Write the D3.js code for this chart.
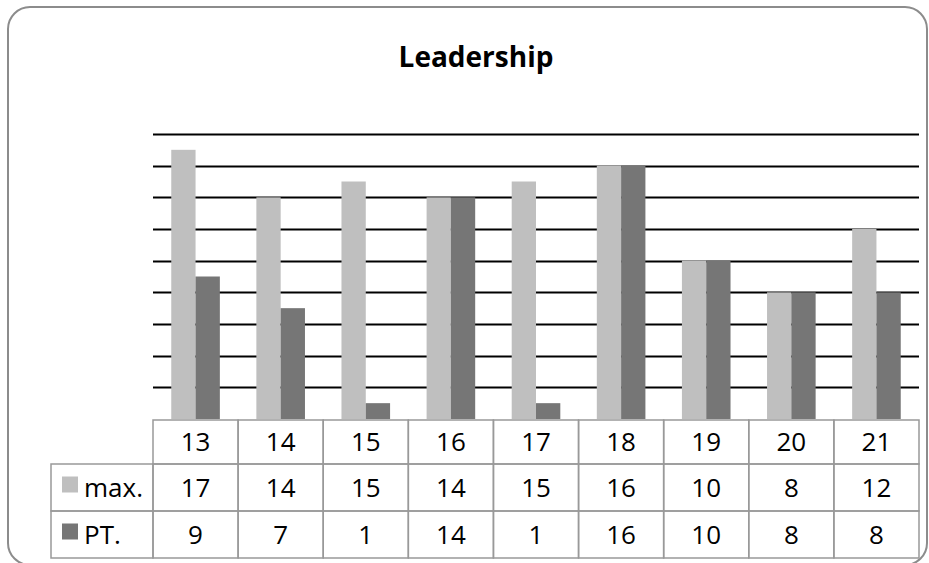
<!DOCTYPE html>
<html>
<head>
<meta charset="utf-8">
<script src="https://cdn.jsdelivr.net/npm/d3@7"></script>
<style>
  html, body { margin: 0; padding: 0; background: #fff; }
  svg { display: block; }
  text { font-family: "Open Sans", "Noto Sans", sans-serif; }
</style>
</head>
<body>
<svg id="chart" width="929" height="563"></svg>
<script>
const title = "Leadership";
const categories = ["13", "14", "15", "16", "17", "18", "19", "20", "21"];
const seriesNames = ["max.", "PT."];
const maxValues = [17, 14, 15, 14, 15, 16, 10, 8, 12];
const ptValues = [9, 7, 1, 14, 1, 16, 10, 8, 8];
const gridTicks = [2, 4, 6, 8, 10, 12, 14, 16, 18];
const colors = ["#bfbfbf", "#767676"];

const series = [maxValues, ptValues];

const svg = d3.select("#chart");
const W = 929, H = 563;

// outer rounded frame
svg.append("rect")
  .attr("x", 8).attr("y", 7)
  .attr("width", 919).attr("height", 558)
  .attr("rx", 22).attr("ry", 22)
  .attr("fill", "#fff")
  .attr("stroke", "#8c8c8c")
  .attr("stroke-width", 2);

// title
svg.append("text")
  .attr("x", 476).attr("y", 67)
  .attr("text-anchor", "middle")
  .attr("font-size", 28)
  .attr("font-weight", "bold")
  .attr("fill", "#000")
  .text(title);

const plotLeft = 153, plotRight = 919;
const baseY = 419, topY = 134;

const x = d3.scaleBand().domain(categories).range([plotLeft, plotRight]).paddingInner(0).paddingOuter(0);
const y = d3.scaleLinear().domain([0, 18]).range([baseY, topY]);

const groupWidth = x.bandwidth() * 0.571;
const xs = d3.scaleBand().domain(seriesNames).range([0, groupWidth]).padding(0);

// gridlines
svg.append("g").selectAll("line")
  .data(gridTicks)
  .join("line")
  .attr("x1", plotLeft).attr("x2", plotRight)
  .attr("y1", d => Math.round(y(d)) + 0.5)
  .attr("y2", d => Math.round(y(d)) + 0.5)
  .attr("stroke", "#000")
  .attr("stroke-width", 2);

// bars
const barData = [];
categories.forEach((c, i) => {
  seriesNames.forEach((s, j) => {
    barData.push({ cat: c, name: s, value: series[j][i], color: colors[j] });
  });
});

svg.append("g").selectAll("rect")
  .data(barData)
  .join("rect")
  .attr("x", d => x(d.cat) + (x.bandwidth() - groupWidth) / 2 + xs(d.name))
  .attr("y", d => y(d.value))
  .attr("width", xs.bandwidth())
  .attr("height", d => baseY - y(d.value))
  .attr("fill", d => d.color);

// data table
const tableLeft = 51;
const rowY = [420, 464, 511, 558];
const borderColor = "#999";
const fs = 26;
const tg = svg.append("g");

// header row cells
categories.forEach(c => {
  tg.append("rect")
    .attr("x", x(c)).attr("y", rowY[0])
    .attr("width", x.bandwidth()).attr("height", rowY[1] - rowY[0])
    .attr("fill", "none").attr("stroke", borderColor).attr("stroke-width", 1.5);
  tg.append("text")
    .attr("x", x(c) + x.bandwidth() / 2)
    .attr("y", (rowY[0] + rowY[1]) / 2 + 9)
    .attr("text-anchor", "middle")
    .attr("font-size", fs)
    .attr("fill", "#000")
    .text(c);
});

// series rows
seriesNames.forEach((s, j) => {
  const y0 = rowY[j + 1], y1 = rowY[j + 2];
  tg.append("rect")
    .attr("x", tableLeft).attr("y", y0)
    .attr("width", plotLeft - tableLeft).attr("height", y1 - y0)
    .attr("fill", "none").attr("stroke", borderColor).attr("stroke-width", 1.5);
  tg.append("rect")
    .attr("x", 62).attr("y", (y0 + y1) / 2 - 11)
    .attr("width", 16).attr("height", 16)
    .attr("fill", colors[j]);
  tg.append("text")
    .attr("x", 84).attr("y", (y0 + y1) / 2 + 9)
    .attr("font-size", fs)
    .attr("fill", "#000")
    .text(s);
  categories.forEach((c, i) => {
    tg.append("rect")
      .attr("x", x(c)).attr("y", y0)
      .attr("width", x.bandwidth()).attr("height", y1 - y0)
      .attr("fill", "none").attr("stroke", borderColor).attr("stroke-width", 1.5);
    tg.append("text")
      .attr("x", x(c) + x.bandwidth() / 2)
      .attr("y", (y0 + y1) / 2 + 9)
      .attr("text-anchor", "middle")
      .attr("font-size", fs)
      .attr("fill", "#000")
      .text(series[j][i]);
  });
});
</script>
</body>
</html>
